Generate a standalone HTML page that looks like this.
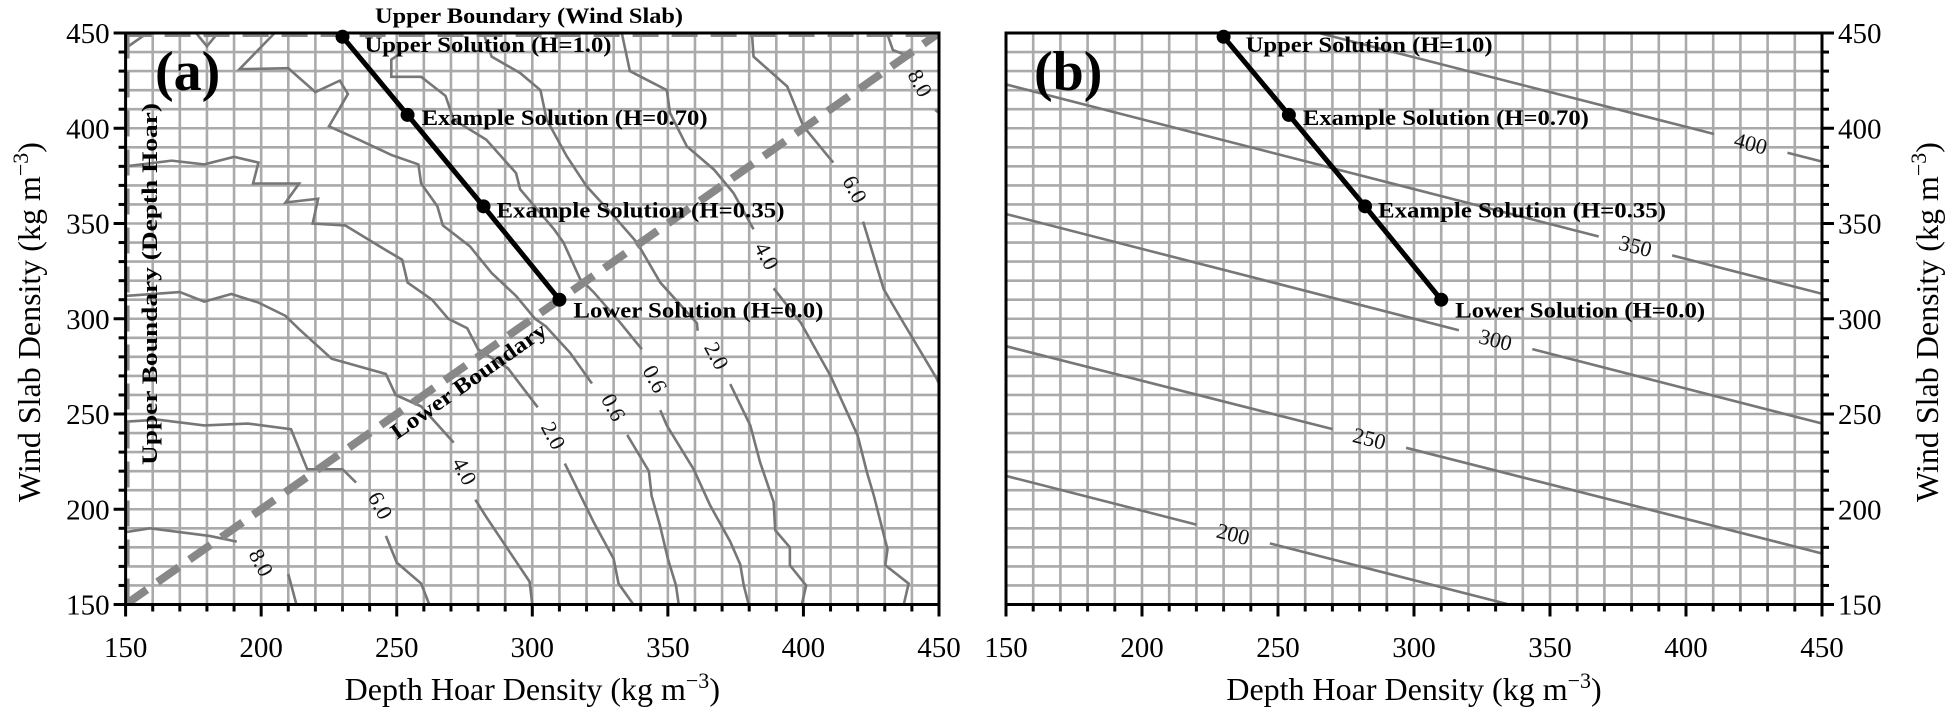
<!DOCTYPE html>
<html><head><meta charset="utf-8"><style>
html,body{margin:0;padding:0;background:#fff;}
svg{display:block;}
svg text{font-family:"Liberation Serif","Times New Roman",serif;}
</style></head><body>
<svg id="fig" width="1945" height="713" viewBox="0 0 1945 713" font-family="Liberation Serif, Times New Roman, serif"></svg>
<script>
// ---- data ----
const xTicks=[150,200,250,300,350,400,450];
const yTicks=[150,200,250,300,350,400,450];
const solX=[230,254,282,310];
const solY=[448,407,359,310];
const solLabels=["Upper Solution (H=1.0)","Example Solution (H=0.70)","Example Solution (H=0.35)","Lower Solution (H=0.0)"];
// panel (a) contours
const cL8=[[[150,188],[159,190],[181,186],[191,183]],[[210,166],[213,150]]];
const cTop=[[[150,442],[158,450]],[[176,450],[180,443],[184,450]]];
const cL6=[[[150,246],[162,247],[179,244],[195,245],[211,242],[217,221],[230,221],[235,214]],[[246,186],[250,172],[259,161],[262,150]]];
const cG=[[[150,312],[170,314],[179,309],[189,313],[199,308.5],[209,301.5],[214,294.5],[226,279],[246,271],[249.6,260],[259,254],[271,235]],[[279,205],[283,196],[299,162],[300,150]]];
const cF=[[[150,380],[167,383],[179,381],[190,385],[199,382],[197,371],[214,371],[209,361],[221,363],[219,350],[231,349],[246,336],[252,331],[254,319],[263,310],[269,300],[276,295],[280,284],[291,274],[302,253.5]],[[312,224],[322.6,193.3],[330,174],[331.8,161],[337.3,150]]];
const cE=[[[205,450],[192,431],[210,431.5],[220,419],[229,425],[232,418],[225,401],[236,394],[248,386],[258,381],[259,371],[265,359],[267,349],[277,338],[285,324],[294,312],[301,300],[305,296],[314,282],[322,266]],[[335,239],[343,220],[344,207],[347,192],[350,174],[353,160],[354,150]]];
const cD=[[[252,440],[248,436],[248,427],[259,427],[268,417],[271,404.5],[283,394],[294,376.5],[295.5,368],[308,347],[311.5,340],[317.6,321],[322.6,314],[332.4,298],[340.4,284]],[[347.2,252],[349.6,244],[359.5,221],[365.6,202],[373,183],[376.7,171],[378,160],[379.8,150]]];
const cC=[[[282,450],[285,437.6],[295.5,429],[303,420],[305.3,404.5],[312.7,385.3],[320,369.6],[330,354],[338.6,340],[347.2,319],[360.7,297.7],[361,293.7]],[[373,265.7],[380.4,244],[384,224.7],[389,203.8],[389.6,189],[395,180],[395,170.6],[401,160],[399.4,150]]];
const cB=[[[333,450],[336,430],[349.6,420],[350.8,408],[357,390.5],[367,378.3],[374.2,366],[381.6,347]],[[389,316],[399,298],[410,270],[420,238.7],[423.4,219.5],[426,207],[431,179],[430.2,170.6],[438.8,161],[437,150]]];
const cA=[[[381,450],[381.6,437.6],[394,422],[400,401],[411,382]],[[422,351],[429.6,315.5],[436,300],[449,269],[450,266]]];
const cR8=[[[430.8,450],[433,441],[439.4,437.6]],[[448.6,409.7],[450,408]]];
const contoursA=[cL8,cTop,cL6,cG,cF,cE,cD,cC,cB,cA,cR8];
const labelTextA=["8.0","6.0","4.0","2.0","0.6","0.6","2.0","4.0","6.0","8.0"];
const labelXA=[200,244,275,307.8,330,345.3,368,386.5,419,443];
const labelYA=[172,202,220,238.7,253.5,268.4,280.6,333,368,423.7];
// panel (b) contours
const levelsB=[200,250,300,350,400];
const leftYB=[217.5,285.6,355,423,492];
const rightYB=[108,176.8,245,313.1,382.5];
const labelXB=[233.5,283.6,330,381.4,423.8];

// ---- helpers ----
const NS="http://www.w3.org/2000/svg";
const FF="Liberation Serif, Times New Roman, serif";
const svg=document.getElementById('fig');
function mk(tag,attrs,parent){const e=document.createElementNS(NS,tag);for(const k in attrs)e.setAttribute(k,attrs[k]);if(tag==='text')e.setAttribute('font-family',FF);(parent||svg).appendChild(e);return e;}
const panels=[{x0:125.6,x1:939,id:'a'},{x0:1006,x1:1822,id:'b'}];
const Y0=604.5,Y1=33;
function sy(v){return Y0-(v-150)/300*(Y0-Y1);}
function sxf(p){return v=>p.x0+(v-150)/300*(p.x1-p.x0);}

const defs=mk('defs',{});
panels.forEach(p=>{const cp=mk('clipPath',{id:'clip-'+p.id},defs);mk('rect',{x:p.x0,y:Y1,width:p.x1-p.x0,height:Y0-Y1},cp);});

panels.forEach((p,pi)=>{
  const sx=sxf(p);
  const g=mk('g',{});
  
  
  const gc=mk('g',{'clip-path':'url(#clip-'+p.id+')'},g);
  const grid=mk('g',{stroke:'#aaaaaa','stroke-width':2.6},gc);
  
  
  for(let v=160;v<450;v+=10){
    mk('line',{x1:sx(v),x2:sx(v),y1:Y1,y2:Y0},grid);
    mk('line',{x1:p.x0,x2:p.x1,y1:sy(v),y2:sy(v)},grid);
  }
  if(pi===0){
    contoursA.forEach(c=>{
      c.forEach(seg=>{
        const pl=mk('polyline',{points:seg.map(q=>sx(q[0])+','+sy(q[1])).join(' '),fill:'none',stroke:'#777','stroke-width':2.6},gc);
        
        
      });
    });
    labelTextA.forEach((t,i)=>{
      const tx=mk('text',{x:sx(labelXA[i]),y:sy(labelYA[i]),'font-size':22,fill:'#111','text-anchor':'middle','dominant-baseline':'central',transform:`rotate(62 ${sx(labelXA[i])} ${sy(labelYA[i])})`},g);
      tx.textContent=t;
      
      
    });
    const bd={stroke:'#888','stroke-width':8,'stroke-dasharray':'26 13',fill:'none'};
    const b1=mk('line',Object.assign({x1:sx(150),y1:sy(150),x2:sx(450),y2:sy(450)},bd),gc);
    
    
    const b2=mk('line',Object.assign({x1:sx(150),y1:sy(150),x2:sx(150),y2:sy(450)},bd),gc);
    
    
    const b3=mk('line',Object.assign({x1:sx(150),y1:sy(450),x2:sx(450),y2:sy(450)},bd),gc);
    
    
  } else {
    levelsB.forEach((lv,i)=>{
      const slope=(rightYB[i]-leftYB[i])/300;
      const f=x=>leftYB[i]+slope*(x-150);
      const gap=13.5;
      [[150,labelXB[i]-gap],[labelXB[i]+gap,450]].forEach(r=>{
        const l=mk('line',{x1:sx(r[0]),y1:sy(f(r[0])),x2:sx(r[1]),y2:sy(f(r[1])),stroke:'#777','stroke-width':2.6},gc);
        
        
      });
      const lx=sx(labelXB[i]),ly=sy(f(labelXB[i]));
      const ang=Math.atan2(sy(f(labelXB[i]+1))-ly,sx(labelXB[i]+1)-lx)*180/Math.PI;
      const tx=mk('text',{x:lx,y:ly,'font-size':22,fill:'#111','text-anchor':'middle','dominant-baseline':'central',transform:`rotate(${ang} ${lx} ${ly})`},g);
      tx.textContent=String(lv);
      
      
    });
  }
  const sl=mk('polyline',{points:solX.map((v,i)=>sx(v)+','+sy(solY[i])).join(' '),fill:'none',stroke:'#000','stroke-width':5},g);
  
  
  const offs=[[22,15],[14,10],[13,11],[14,18]];
  const lens=[247,286,288,250];
  solX.forEach((v,i)=>{
    const c=mk('circle',{cx:sx(v),cy:sy(solY[i]),r:7,fill:'#000'},g);
    
    
    const t=mk('text',{x:sx(v)+offs[i][0],y:sy(solY[i])+offs[i][1],'font-size':22,'font-weight':'bold',fill:'#000',textLength:lens[i],lengthAdjust:'spacingAndGlyphs'},g);
    t.textContent=solLabels[i];
    
    
  });
  const sp=mk('rect',{x:p.x0,y:Y1,width:p.x1-p.x0,height:Y0-Y1,fill:'none',stroke:'#000','stroke-width':3},g);
  
  
  const tk=mk('g',{stroke:'#000','stroke-width':3},g);
  
  
  for(let v=150;v<=450;v+=10){
    const major=(v%50===0);const L=major?12:7;
    mk('line',{x1:sx(v),x2:sx(v),y1:Y0,y2:Y0+L},tk);
    if(pi===0) mk('line',{x1:p.x0,x2:p.x0-L,y1:sy(v),y2:sy(v)},tk);
    else mk('line',{x1:p.x1,x2:p.x1+L,y1:sy(v),y2:sy(v)},tk);
  }
  xTicks.forEach(v=>{
    const t=mk('text',{x:sx(v),y:657,'font-size':29,'text-anchor':'middle',fill:'#000'},g);
    t.textContent=v;
    
    
  });
  yTicks.forEach(v=>{
    const t=mk('text',{x:pi===0?p.x0-16:p.x1+16,y:sy(v)+10,'font-size':29,'text-anchor':pi===0?'end':'start',fill:'#000'},g);
    t.textContent=v;
    
    
  });
  const xl=mk('text',{x:(p.x0+p.x1)/2,y:700,'font-size':32,'text-anchor':'middle',fill:'#000'},g);
  xl.innerHTML='Depth Hoar Density (kg m<tspan dy="-12" font-size="22">−3</tspan><tspan dy="12">)</tspan>';
  
  
  const yx=pi===0?40:1938;
  const yl=mk('text',{x:yx,y:322,'font-size':32,'text-anchor':'middle',fill:'#000',transform:`rotate(-90 ${yx} 322)`},g);
  yl.innerHTML='Wind Slab Density (kg m<tspan dy="-12" font-size="22">−3</tspan><tspan dy="12">)</tspan>';
  
  
  const pl=mk('text',{x:pi===0?155:1034,y:90,'font-size':56,'font-weight':'bold',fill:'#000'},g);
  pl.textContent='('+p.id+')';
  
  
});
const t1=mk('text',{x:375,y:23,'font-size':22,'font-weight':'bold',textLength:308,lengthAdjust:'spacingAndGlyphs'});
t1.textContent='Upper Boundary (Wind Slab)';


const t2=mk('text',{x:157,y:284,'font-size':22,'font-weight':'bold','text-anchor':'middle',transform:'rotate(-90 157 284)',textLength:362,lengthAdjust:'spacingAndGlyphs'});
t2.textContent='Upper Boundary (Depth Hoar)';


const t3=mk('text',{x:397,y:440,'font-size':22,'font-weight':'bold',transform:'rotate(-35.1 397 440)',textLength:185,lengthAdjust:'spacingAndGlyphs'});
t3.textContent='Lower Boundary';


</script>
</body></html>
